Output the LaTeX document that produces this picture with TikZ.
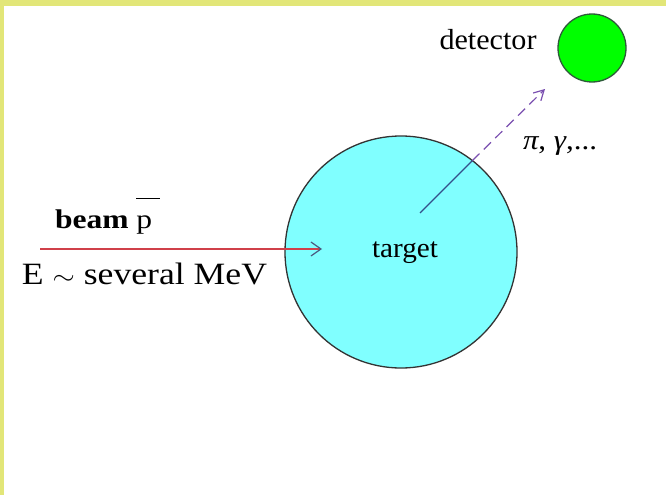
\documentclass[tikz,border=0pt]{standalone}
\usepackage{fontspec}
\setmainfont{Liberation Serif}
\usetikzlibrary{arrows.meta}
\definecolor{framecol}{HTML}{E2E678}
\definecolor{tcyan}{HTML}{80FFFF}
\definecolor{dgreen}{HTML}{00FF00}
\definecolor{dedge}{HTML}{2E5A3A}
\definecolor{beamred}{HTML}{D0404A}
\definecolor{tipcol}{HTML}{4A5A80}
\definecolor{pathpurple}{HTML}{7A4FB0}
\definecolor{pathblue}{HTML}{34508A}
\newcommand\fitw[2]{\resizebox{#1}{\height}{#2}}
\newcommand\pbar{\makebox[0pt][l]{\raisebox{1.07em}{\rule{0.74em}{1.3pt}}}p}
\begin{document}
\begin{tikzpicture}[x=1pt,y=-1pt,
  lbl/.style={inner sep=0pt, anchor=base},
  ball/.style={circle, inner sep=0pt, line width=1.3pt}]
\fill[white] (0,0) rectangle (666,495);
\fill[framecol] (0,0) rectangle (666,6);
\fill[framecol] (0,0) rectangle (4,495);
\useasboundingbox (0,0) rectangle (666,495);

\node[ball, draw=black!80, fill=tcyan, minimum size=232pt] (target) at (401,252) {};
\node[ball, draw=dedge, fill=dgreen, minimum size=68pt] (detector) at (592,48) {};

\node[lbl] (tlabel) at (405,257) {\fontsize{28}{30}\selectfont\fitw{66pt}{target}};
\node[lbl] (dlabel) at (488,50) {\fontsize{29}{31}\selectfont\fitw{97pt}{detector}};
\node[lbl] (plabel) at (560,149) {\fontsize{28}{30}\selectfont\fitw{74pt}{\textit{π}, \textit{γ},...}};
\node[lbl] (blabel) at (106,228) {\fontsize{27}{30}\selectfont\fitw{102pt}{\textbf{beam} \pbar\hspace{0.15em}}};
\node[lbl] (elabel) at (144.5,284) {\fontsize{31}{33}\selectfont\fitw{245pt}{E $\sim$ several MeV}};

\coordinate (bstart) at (40,249);
\coordinate (bend) at (322,249);
\draw[beamred, line width=1.4pt, -{Straight Barb[length=10pt,width=14pt,line width=1.2pt,color=tipcol]}] (bstart) -- (bend);

\coordinate (pstart) at (420,213);
\coordinate (pedge) at (472.4,160.6);
\coordinate (pend) at (545,89);
\draw[pathblue, line width=1.2pt] (pstart) -- (pedge);
\draw[pathpurple, line width=1.2pt, dash pattern=on 10pt off 6pt, -{Straight Barb[length=10pt,width=11pt,line width=1.2pt]}] (pedge) -- (pend);
\end{tikzpicture}
\end{document}
